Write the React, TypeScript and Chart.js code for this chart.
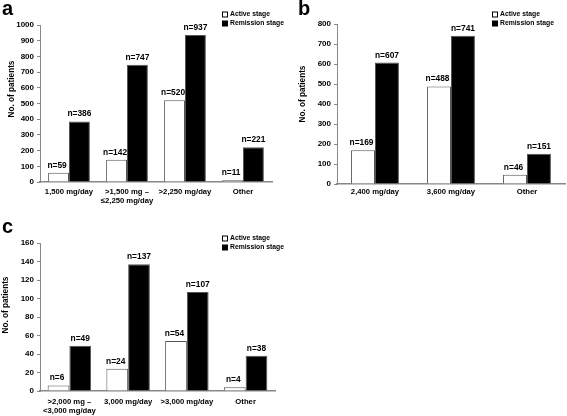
import React, { useEffect, useRef } from 'react';
import { Chart, registerables } from 'chart.js';

Chart.register(...registerables);

// ---------- Data ----------
const categoriesA: (string | string[])[] = ['1,500 mg/day', ['>1,500 mg –', '≤2,250 mg/day'], '>2,250 mg/day', 'Other'];
const activeA = [59, 142, 520, 11];
const remissionA = [386, 747, 937, 221];

const categoriesB: (string | string[])[] = ['2,400 mg/day', '3,600 mg/day', 'Other'];
const activeB = [169, 488, 46];
const remissionB = [607, 741, 151];

const categoriesC: (string | string[])[] = [['>2,000 mg –', '<3,000 mg/day'], '3,000 mg/day', '>3,000 mg/day', 'Other'];
const activeC = [6, 24, 54, 4];
const remissionC = [49, 137, 107, 38];

const seriesNames = ['Active stage', 'Remission stage'];
const yTitle = 'No. of patients';

const FONT = '"Liberation Sans", Arial, sans-serif';

type PanelProps = {
  letter: string;
  left: number;
  top: number;
  width: number;
  height: number;
  area: { l: number; r: number; t: number; b: number };
  categories: (string | string[])[];
  active: number[];
  remission: number[];
  yMax: number;
  yStep: number;
  groupFrac: number;
  labelPad: number;
  letterPos: [number, number];
  legendPos: [number, number];
  titlePos: [number, number];
};

function Panel(p: PanelProps) {
  const ref = useRef<HTMLCanvasElement | null>(null);
  useEffect(() => {
    if (!ref.current) return;
    const annot = {
      id: 'annot',
      afterDatasetsDraw(chart: any) {
        const ctx = chart.ctx as CanvasRenderingContext2D;
        ctx.save();
        ctx.fillStyle = '#000';
        // value labels
        ctx.font = `bold 8.4px ${FONT}`;
        ctx.textAlign = 'center';
        ctx.textBaseline = 'alphabetic';
        chart.data.datasets.forEach((ds: any, i: number) => {
          const meta = chart.getDatasetMeta(i);
          meta.data.forEach((el: any, j: number) => {
            const dx = i === 0 ? -1.5 : 0;
            ctx.fillText('n=' + ds.data[j], el.x + dx, el.y - 5);
          });
        });
        // panel letter
        ctx.font = `bold 20px ${FONT}`;
        ctx.textAlign = 'left';
        ctx.fillText(p.letter, p.letterPos[0], p.letterPos[1]);
        // legend
        ctx.font = `bold 6.8px ${FONT}`;
        ctx.textBaseline = 'middle';
        const [lx, ly] = p.legendPos;
        seriesNames.forEach((name, i) => {
          const y = ly + i * 9;
          if (i === 0) {
            ctx.fillStyle = '#fff';
            ctx.fillRect(lx, y - 2.5, 5, 5);
            ctx.strokeStyle = '#000';
            ctx.lineWidth = 1;
            ctx.strokeRect(lx + 0.5, y - 2.5 + 0.5, 5, 5);
          } else {
            ctx.fillStyle = '#000';
            ctx.fillRect(lx, y - 2.5, 6, 6);
          }
          ctx.fillStyle = '#000';
          ctx.fillText(name, lx + 8, y + 0.5);
        });
        // y-axis title
        ctx.translate(p.titlePos[0], p.titlePos[1]);
        ctx.rotate(-Math.PI / 2);
        ctx.font = `bold 8.2px ${FONT}`;
        ctx.textAlign = 'center';
        ctx.textBaseline = 'middle';
        ctx.fillText(yTitle, 0, 0);
        ctx.restore();
      },
    };
    const chart = new Chart(ref.current, {
      type: 'bar',
      data: {
        labels: p.categories as any,
        datasets: [
          {
            label: seriesNames[0],
            data: p.active,
            backgroundColor: '#ffffff',
            borderColor: '#555555',
            borderWidth: 1,
          },
          {
            label: seriesNames[1],
            data: p.remission,
            backgroundColor: '#000000',
            borderColor: '#555555',
            borderWidth: 1,
          },
        ],
      },
      options: {
        animation: false,
        responsive: false,
        maintainAspectRatio: false,
        events: [],
        layout: {
          padding: { left: 0, top: p.area.t, right: p.width - p.area.r, bottom: 0 },
        },
        datasets: {
          bar: { categoryPercentage: p.groupFrac, barPercentage: 1 },
        },
        plugins: {
          legend: { display: false },
          tooltip: { enabled: false },
          title: { display: false },
        },
        scales: {
          x: {
            grid: { display: false, drawTicks: false },
            border: { display: true, color: '#888888', width: 1.5 },
            ticks: {
              color: '#000',
              font: { family: FONT, size: 7.7, weight: 'bold' },
              padding: p.labelPad,
              maxRotation: 0,
              autoSkip: false,
            },
            afterFit: (s: any) => {
              s.height = p.height - p.area.b;
            },
          },
          y: {
            min: 0,
            max: p.yMax,
            grid: { drawOnChartArea: false, drawTicks: true, tickLength: 3, color: '#888888' },
            border: { display: true, color: '#888888', width: 1 },
            ticks: {
              stepSize: p.yStep,
              color: '#000',
              font: { family: FONT, size: 8, weight: 'bold' },
              padding: 3,
              callback: (v: any) => String(v),
            },
            afterFit: (s: any) => {
              s.width = p.area.l;
            },
          },
        },
      },
      plugins: [annot],
    });
    return () => chart.destroy();
  }, []);
  return (
    <div style={{ position: 'absolute', left: p.left, top: p.top, width: p.width, height: p.height }}>
      <canvas ref={ref} width={p.width} height={p.height} style={{ width: p.width, height: p.height, display: 'block' }} />
    </div>
  );
}

export default function App() {
  return (
    <div style={{ position: 'absolute', left: 0, top: 0, width: 567, height: 416, background: '#fff', overflow: 'hidden' }}>
      <Panel
        letter="a"
        left={0}
        top={0}
        width={292}
        height={215}
        area={{ l: 40, r: 272, t: 25, b: 182 }}
        categories={categoriesA}
        active={activeA}
        remission={remissionA}
        yMax={1000}
        yStep={100}
        groupFrac={0.72}
        labelPad={5}
        letterPos={[2, 15]}
        legendPos={[222, 14]}
        titlePos={[12, 89]}
      />
      <Panel
        letter="b"
        left={283}
        top={0}
        width={284}
        height={215}
        area={{ l: 54, r: 282, t: 24, b: 184 }}
        categories={categoriesB}
        active={activeB}
        remission={remissionB}
        yMax={800}
        yStep={100}
        groupFrac={0.63}
        labelPad={3}
        letterPos={[15, 15]}
        legendPos={[209, 14]}
        titlePos={[20, 94]}
      />
      <Panel
        letter="c"
        left={0}
        top={205}
        width={292}
        height={211}
        area={{ l: 40, r: 275, t: 38, b: 186 }}
        categories={categoriesC}
        active={activeC}
        remission={remissionC}
        yMax={160}
        yStep={20}
        groupFrac={0.74}
        labelPad={6}
        letterPos={[2, 28]}
        legendPos={[222, 33]}
        titlePos={[6, 100]}
      />
    </div>
  );
}
